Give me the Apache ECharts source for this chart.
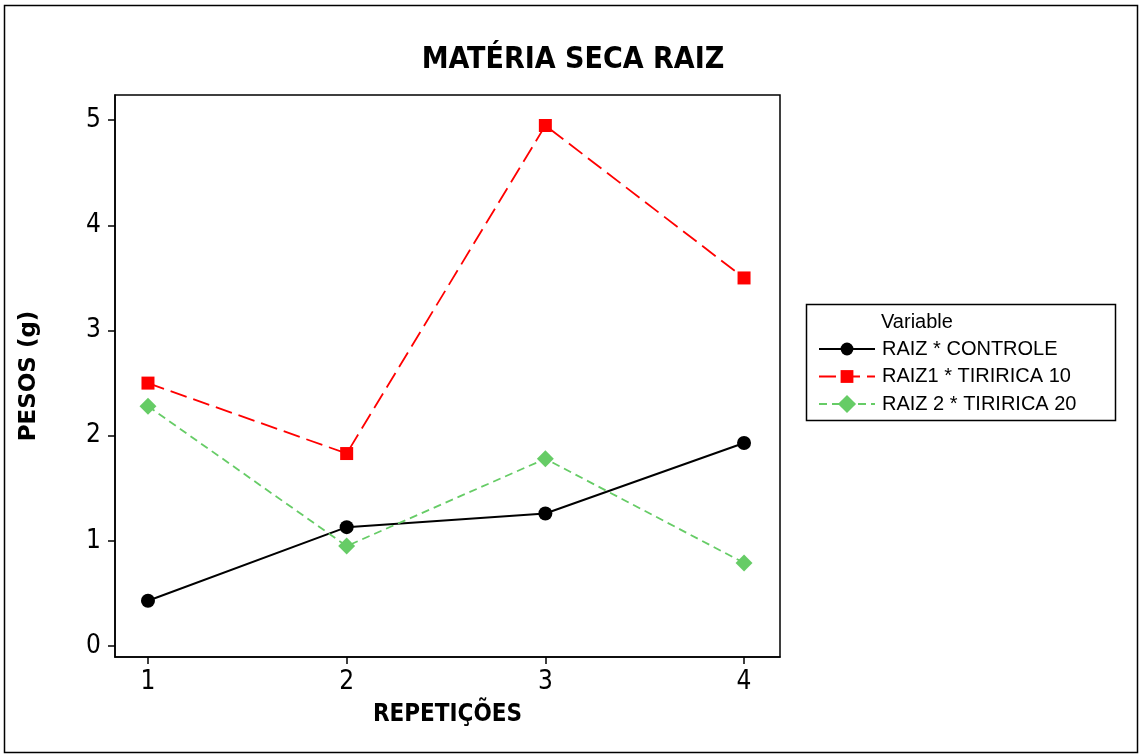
<!DOCTYPE html>
<html><head><meta charset="utf-8">
<script src="https://cdn.jsdelivr.net/npm/echarts@6/dist/echarts.min.js"></script>
<style>html,body{margin:0;padding:0;background:#fff}#c{width:1143px;height:756px}</style>
</head><body><div id="c"></div>
<script>
const repeticoes = [1, 2, 3, 4];
const raizControle = [0.43, 1.13, 1.26, 1.93];
const raiz1Tiririca10 = [2.50, 1.83, 4.95, 3.50];
const raiz2Tiririca20 = [2.28, 0.95, 1.78, 0.79];
const yTicks = [0, 1, 2, 3, 4, 5];
const seriesNames = ['RAIZ * CONTROLE', 'RAIZ1 * TIRIRICA 10', 'RAIZ 2 * TIRIRICA 20'];

const pairs = ys => repeticoes.map((x, i) => [x, ys[i]]);
const TICKFONT = "'Liberation Sans Narrow', 'DejaVu Sans Condensed', sans-serif";
const LEGFONT = "'Liberation Sans', Arial, sans-serif";
const chart = echarts.init(document.getElementById('c'), null, {renderer: 'canvas'});
chart.setOption({
  animation: false,
  backgroundColor: '#fff',
  title: {
    text: 'MATÉRIA SECA RAIZ', left: 568, top: 40, textAlign: 'center',
    textStyle: {fontFamily: 'DejaVu Sans Condensed', fontWeight: 'bold', fontSize: 30, color: '#000'}
  },
  grid: {left: 115, top: 95, right: 363, bottom: 99, show: true, borderColor: '#000', borderWidth: 1.5},
  xAxis: {
    type: 'value', min: 0.834, max: 4.181,
    name: 'REPETIÇÕES', nameLocation: 'middle', nameGap: 46,
    nameTextStyle: {fontFamily: 'DejaVu Sans Condensed', fontWeight: 'bold', fontSize: 24, color: '#000'},
    axisLine: {show: true, onZero: false, lineStyle: {color: '#000', width: 1.5}},
    axisTick: {show: true, length: 7, customValues: repeticoes, lineStyle: {color: '#000', width: 1.5}},
    axisLabel: {customValues: repeticoes, fontFamily: TICKFONT, fontSize: 26, color: '#000', margin: 12},
    splitLine: {show: false}
  },
  yAxis: {
    type: 'value', min: -0.105, max: 5.24,
    name: 'PESOS (g)', nameLocation: 'middle', nameGap: 74, nameRotate: 90,
    nameTextStyle: {fontFamily: 'DejaVu Sans', fontWeight: 'bold', fontSize: 23, color: '#000'},
    axisLine: {show: true, onZero: false, lineStyle: {color: '#000', width: 1.5}},
    axisTick: {show: true, length: 7, customValues: yTicks, lineStyle: {color: '#000', width: 1.5}},
    axisLabel: {customValues: yTicks, fontFamily: TICKFONT, fontSize: 26, color: '#000', margin: 14},
    splitLine: {show: false}
  },
  legend: {
    left: 813, top: 334, orient: 'vertical', itemWidth: 56, itemHeight: 16, itemGap: 7.5,
    textStyle: {fontFamily: LEGFONT, fontSize: 20, color: '#000', padding: [0, 0, 0, 2]},
    data: seriesNames
  },
  graphic: [
    {type: 'rect', shape: {x: 806.5, y: 304.5, width: 309, height: 116}, style: {fill: 'none', stroke: '#000', lineWidth: 1.5}, z: 1},
    {type: 'text', x: 881, y: 312, style: {text: 'Variable', fontFamily: LEGFONT, fontSize: 20, fill: '#000'}},
    {type: 'rect', shape: {x: 4.5, y: 5.5, width: 1133, height: 747}, style: {fill: 'none', stroke: '#000', lineWidth: 1.5}, z: 1}
  ],
  series: [
    {name: seriesNames[0], type: 'line', data: pairs(raizControle), symbol: 'circle', symbolSize: 14,
     itemStyle: {color: '#000'}, lineStyle: {color: '#000', width: 2}},
    {name: seriesNames[1], type: 'line', data: pairs(raiz1Tiririca10), symbol: 'rect', symbolSize: 13,
     itemStyle: {color: '#FF0000'}, lineStyle: {color: '#FF0000', width: 1.8, type: [17, 7]}},
    {name: seriesNames[2], type: 'line', data: pairs(raiz2Tiririca20), symbol: 'rect', symbolSize: 12, symbolRotate: 45,
     itemStyle: {color: '#66CC66'}, lineStyle: {color: '#66CC66', width: 1.8, type: [8, 5]}}
  ]
});
</script></body></html>
